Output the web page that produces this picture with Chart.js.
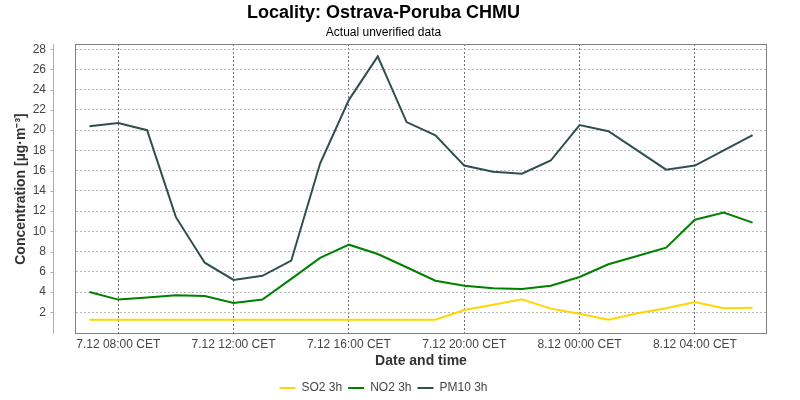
<!DOCTYPE html>
<html>
<head>
<meta charset="utf-8">
<script src="https://cdn.jsdelivr.net/npm/chart.js@4.4.0/dist/chart.umd.min.js"></script>
<style>
  html, body { margin: 0; padding: 0; background: #fff; }
  canvas { display: block; }
</style>
</head>
<body>
<canvas id="chart" width="800" height="400"></canvas>
<script>
// hodiny od 7.12 00:00 (24 = 8.12 00:00)
const hours = [7, 8, 9, 10, 11, 12, 13, 14, 15, 16, 17, 18, 19, 20, 21, 22, 23, 24, 25, 26, 27, 28, 29, 30];
const so2 = [1.27, 1.27, 1.27, 1.27, 1.27, 1.27, 1.27, 1.27, 1.27, 1.27, 1.27, 1.27, 1.27, 2.22, 2.75, 3.28, 2.36, 1.86, 1.27, 1.9, 2.39, 3.02, 2.39, 2.45];
const no2 = [4.0, 3.25, 3.45, 3.67, 3.6, 2.92, 3.25, 5.3, 7.37, 8.68, 7.76, 6.45, 5.12, 4.63, 4.37, 4.3, 4.63, 5.49, 6.74, 7.56, 8.39, 11.15, 11.85, 10.86];
const pm10 = [20.4, 20.7, 20.0, 11.4, 6.9, 5.2, 5.6, 7.1, 16.7, 23.0, 27.3, 20.8, 19.5, 16.5, 15.9, 15.7, 17.0, 20.5, 19.9, 18.0, 16.1, 16.5, 18.0, 19.5];

const xTickValues = [8, 12, 16, 20, 24, 28];
const xTickLabels = ['7.12 08:00 CET', '7.12 12:00 CET', '7.12 16:00 CET', '7.12 20:00 CET', '8.12 00:00 CET', '8.12 04:00 CET'];
const yTickValues = [2, 4, 6, 8, 10, 12, 14, 16, 18, 20, 22, 24, 26, 28];

Chart.defaults.font.family = "'Liberation Sans', Arial, sans-serif";
Chart.defaults.color = '#444';

const toPoints = (vals) => vals.map((v, i) => ({ x: hours[i], y: v }));

// ramecek grafu a odsazena osa y
const frame = {
  id: 'frame',
  beforeDatasetsDraw(chart) {
    const { ctx, chartArea: a, scales: { y } } = chart;
    ctx.save();
    ctx.lineWidth = 1;
    ctx.strokeStyle = '#808080';
    ctx.strokeRect(a.left + 0.5, a.top + 0.5, a.width - 1, a.height - 1);
    const ax = a.left - 22 + 0.5;
    ctx.strokeStyle = '#b0b0b0';
    ctx.beginPath();
    ctx.moveTo(ax, a.top);
    ctx.lineTo(ax, a.bottom);
    y.ticks.forEach(t => {
      const py = Math.round(y.getPixelForValue(t.value)) + 0.5;
      ctx.moveTo(ax - 3, py);
      ctx.lineTo(ax, py);
    });
    ctx.stroke();
    ctx.restore();
  }
};

new Chart(document.getElementById('chart'), {
  type: 'line',
  data: {
    datasets: [
      { label: 'SO2 3h', data: toPoints(so2), borderColor: '#FFD700', backgroundColor: '#FFD700', borderWidth: 2 },
      { label: 'NO2 3h', data: toPoints(no2), borderColor: '#008000', backgroundColor: '#008000', borderWidth: 2 },
      { label: 'PM10 3h', data: toPoints(pm10), borderColor: '#2F4F4F', backgroundColor: '#2F4F4F', borderWidth: 2 }
    ]
  },
  options: {
    responsive: false,
    devicePixelRatio: 1,
    animation: false,
    layout: { padding: { top: 0, right: 33, bottom: -4, left: 0 } },
    elements: {
      line: { borderWidth: 2, tension: 0 },
      point: { radius: 0 }
    },
    scales: {
      x: {
        type: 'linear',
        min: 6.5,
        max: 30.5,
        afterBuildTicks: s => { s.ticks = xTickValues.map(v => ({ value: v })); },
        afterFit: s => { s.height = 42; },
        ticks: {
          padding: 3,
          maxRotation: 0,
          autoSkip: false,
          font: { size: 12 },
          color: '#444',
          callback: (v) => xTickLabels[xTickValues.indexOf(v)]
        },
        grid: { color: '#707070', drawTicks: false },
        border: { display: true, color: 'rgba(0,0,0,0)', dash: [2, 2] },
        title: {
          display: true,
          text: 'Date and time',
          font: { size: 14, weight: 'bold' },
          color: '#333',
          padding: { top: 0, bottom: 6 }
        }
      },
      y: {
        min: -0.15,
        max: 28.52,
        afterBuildTicks: s => { s.ticks = yTickValues.map(v => ({ value: v })); },
        afterFit: s => { s.width = 75; },
        ticks: { padding: 29, font: { size: 12 }, color: '#444' },
        grid: { color: '#b8b8b8', drawTicks: false },
        border: { display: true, color: 'rgba(0,0,0,0)', dash: [2, 2] },
        title: {
          display: true,
          text: 'Concentration [µg·m⁻³]',
          font: { size: 14, weight: 'bold' },
          color: '#333',
          padding: { top: 12.6, bottom: 0 }
        }
      }
    },
    plugins: {
      title: {
        display: true,
        text: 'Locality: Ostrava-Poruba CHMU',
        font: { size: 18, weight: 'bold' },
        color: '#000',
        padding: { top: 2, bottom: 0 }
      },
      subtitle: {
        display: true,
        text: 'Actual unverified data',
        font: { size: 12, weight: 'normal' },
        color: '#000',
        padding: { top: 2, bottom: 4 }
      },
      legend: {
        position: 'bottom',
        labels: {
          usePointStyle: true,
          pointStyle: 'line',
          pointStyleWidth: 16,
          padding: 6,
          font: { size: 12 },
          color: '#444'
        }
      },
      tooltip: { enabled: false }
    }
  },
  plugins: [frame]
});
</script>
</body>
</html>
